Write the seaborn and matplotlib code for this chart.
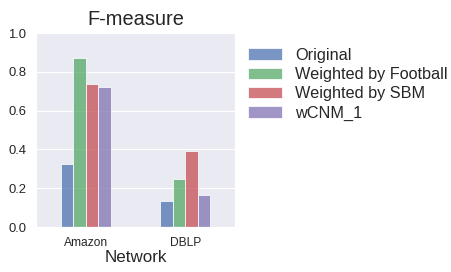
import pandas as pd
import matplotlib
matplotlib.use("Agg")
import matplotlib.pyplot as plt
import seaborn as sns

sns.set_theme(style="darkgrid")
plt.rcParams['font.family'] = ['Liberation Sans', 'DejaVu Sans']

networks = ["Amazon", "DBLP"]
methods = ["Original", "Weighted by Football", "Weighted by SBM", "wCNM_1"]
original = [0.324, 0.133]
football = [0.872, 0.247]
sbm = [0.738, 0.391]
wcnm = [0.722, 0.164]

rows = []
for m, vals in zip(methods, [original, football, sbm, wcnm]):
    for n, v in zip(networks, vals):
        rows.append({"Network": n, "Method": m, "F": v})
df = pd.DataFrame(rows)

colors = ["#4C72B0", "#55A868", "#C44E52", "#8172B2"]

fig = plt.figure(figsize=(451 / 72, 272 / 72), dpi=72)
ax = fig.add_axes([36 / 451, 1 - 227 / 272, 199 / 451, 194 / 272])
sns.barplot(data=df, x="Network", y="F", hue="Method", hue_order=methods,
            palette=colors, saturation=1, alpha=0.75, width=0.5, ax=ax)

ax.set_xlim(-0.5, 1.5)
ax.set_ylim(0, 1.0)
ax.set_yticks([0.0, 0.2, 0.4, 0.6, 0.8, 1.0])
ax.tick_params(axis='y', labelsize=13)
ax.tick_params(axis='x', labelsize=12)
ax.set_ylabel("")
ax.set_xlabel("Network", fontsize=17, labelpad=2)
ax.set_title("F-measure", fontsize=20, pad=8)
ax.legend(loc="upper left", bbox_to_anchor=(0.99, 1.0), frameon=False,
          fontsize=16.3, handlelength=2.1, labelspacing=0.27)

fig.savefig("out.png", dpi=72)
